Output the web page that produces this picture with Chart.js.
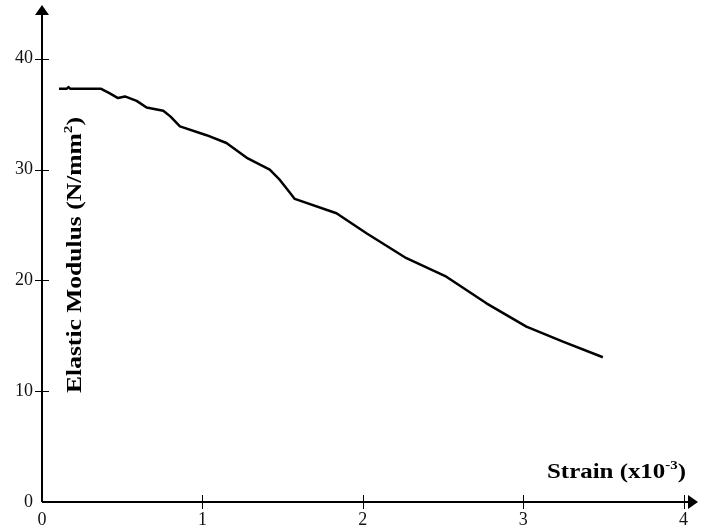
<!DOCTYPE html>
<html>
<head>
<meta charset="utf-8">
<script src="https://cdn.jsdelivr.net/npm/chart.js@4"></script>
<style>
  html, body { margin: 0; padding: 0; background: #fff; }
  #wrap { width: 709px; height: 531px; }
</style>
</head>
<body>
<div id="wrap"><canvas id="chart" width="709" height="531"></canvas></div>
<script>
// values
const strain = [0.106, 0.155, 0.165, 0.175, 0.366, 0.42, 0.474, 0.517, 0.59, 0.652, 0.756,
  0.80, 0.86, 1.026, 1.15, 1.283, 1.42, 1.483, 1.53, 1.576, 1.836, 2.023, 2.272, 2.521,
  2.771, 3.02, 3.248, 3.497];
const modulus = [37.3, 37.3, 37.45, 37.3, 37.3, 36.9, 36.45, 36.6, 36.2, 35.6, 35.3,
  34.8, 33.9, 33.1, 32.4, 31.0, 30.0, 29.06, 28.2, 27.35, 26.06, 24.25, 22.0, 20.33,
  17.93, 15.82, 14.47, 13.06];
const xTicks = [0, 1, 2, 3, 4];
const yTicks = [0, 10, 20, 30, 40];

const serif = "'Liberation Serif', 'Times New Roman', serif";

// draws text pieces (with a raised superscript) squeezed/stretched to a given width
function drawTitle(ctx, parts, width) {
  let natural = 0;
  parts.forEach((p) => {
    ctx.font = "bold " + p.size + "px " + serif;
    natural += ctx.measureText(p.text).width;
  });
  ctx.scale(width / natural, 1);
  let x = 0;
  parts.forEach((p) => {
    ctx.font = "bold " + p.size + "px " + serif;
    ctx.fillText(p.text, x, p.dy || 0);
    x += ctx.measureText(p.text).width;
  });
}

// axes with arrow heads and crossing tick marks, plus the titles
const axesPlugin = {
  id: "axesPlugin",
  afterDraw(chart) {
    const { ctx, chartArea, scales } = chart;
    const x0 = scales.x.getPixelForValue(0);
    const y0 = scales.y.getPixelForValue(0);
    ctx.save();
    ctx.strokeStyle = "#000";
    ctx.fillStyle = "#000";
    ctx.lineWidth = 2;

    ctx.beginPath();
    ctx.moveTo(x0, y0);
    ctx.lineTo(x0, chartArea.top + 6);
    ctx.moveTo(x0, y0);
    ctx.lineTo(chartArea.right - 6, y0);
    ctx.stroke();

    // arrow heads
    ctx.beginPath();
    ctx.moveTo(x0, chartArea.top);
    ctx.lineTo(x0 - 7, chartArea.top + 10);
    ctx.lineTo(x0 + 7, chartArea.top + 10);
    ctx.closePath();
    ctx.fill();
    ctx.beginPath();
    ctx.moveTo(chartArea.right, y0);
    ctx.lineTo(chartArea.right - 10, y0 - 7);
    ctx.lineTo(chartArea.right - 10, y0 + 7);
    ctx.closePath();
    ctx.fill();

    ctx.lineWidth = 1;
    ctx.beginPath();
    xTicks.slice(1).forEach((v) => {
      const px = Math.round(scales.x.getPixelForValue(v)) + 0.5;
      ctx.moveTo(px, y0 - 7);
      ctx.lineTo(px, y0 + 7);
    });
    yTicks.slice(1).forEach((v) => {
      const py = Math.round(scales.y.getPixelForValue(v)) + 0.5;
      ctx.moveTo(x0 - 7, py);
      ctx.lineTo(x0 + 7, py);
    });
    ctx.stroke();

    ctx.textBaseline = "alphabetic";
    ctx.textAlign = "left";

    // x title: Strain (x10^-3)
    ctx.save();
    ctx.translate(547, 478);
    drawTitle(ctx, [
      { text: "Strain (x10", size: 20 },
      { text: "-3", size: 12, dy: -9 },
      { text: ")", size: 20 },
    ], 139);
    ctx.restore();

    // y title: Elastic Modulus (N/mm^2)
    ctx.save();
    ctx.translate(81, 393);
    ctx.rotate(-Math.PI / 2);
    drawTitle(ctx, [
      { text: "Elastic Modulus (N/mm", size: 20 },
      { text: "2", size: 12, dy: -9 },
      { text: ")", size: 20 },
    ], 276);
    ctx.restore();

    ctx.restore();
  },
};

new Chart(document.getElementById("chart"), {
  type: "scatter",
  data: {
    datasets: [
      {
        label: "Elastic Modulus",
        data: strain.map((x, i) => ({ x: x, y: modulus[i] })),
        showLine: true,
        borderColor: "#000",
        borderWidth: 2.5,
        borderJoinStyle: "round",
        pointRadius: 0,
        tension: 0,
      },
    ],
  },
  options: {
    responsive: false,
    animation: false,
    layout: { padding: { top: 5, right: 11, left: 0, bottom: 0 } },
    plugins: {
      legend: { display: false },
      tooltip: { enabled: false },
    },
    scales: {
      x: {
        type: "linear",
        min: 0,
        max: 4.09,
        afterBuildTicks: (s) => { s.ticks = xTicks.map((v) => ({ value: v })); },
        afterFit: (s) => {
          s.height = 29;
          s.paddingLeft = 0;
          s.paddingRight = 0;
        },
        grid: { display: false, drawTicks: false },
        border: { display: false },
        ticks: {
          padding: 7,
          autoSkip: false,
          maxRotation: 0,
          color: "#111",
          font: { family: serif, size: 18 },
        },
      },
      y: {
        min: 0,
        max: 44.85,
        afterBuildTicks: (s) => { s.ticks = yTicks.map((v) => ({ value: v })); },
        afterFit: (s) => {
          s.width = 42;
          s.paddingTop = 0;
          s.paddingBottom = 0;
        },
        grid: { display: false, drawTicks: false },
        border: { display: false },
        ticks: {
          padding: 9,
          color: "#111",
          font: { family: serif, size: 18 },
        },
      },
    },
  },
  plugins: [axesPlugin],
});
</script>
</body>
</html>
